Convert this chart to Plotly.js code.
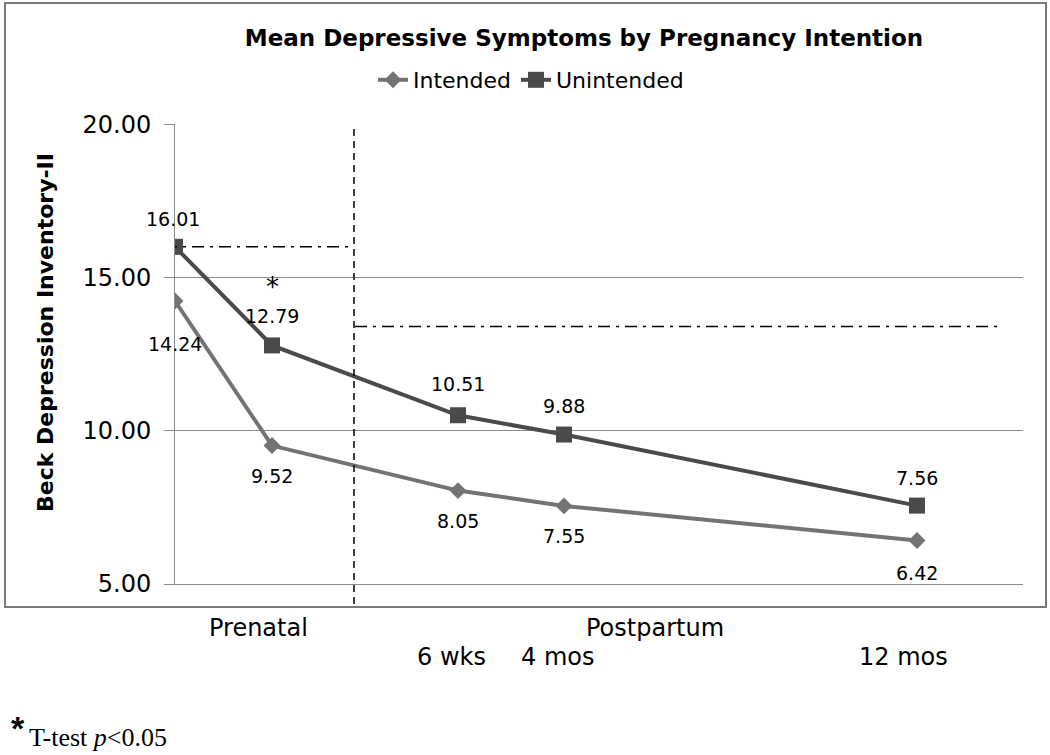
<!DOCTYPE html>
<html><head><meta charset="utf-8">
<script src="https://cdn.plot.ly/plotly-3.0.1.min.js"></script>
<style>body{margin:0;background:#fff}#chart{width:1050px;height:755px}</style>
</head><body><div id="chart"></div><script>
// ---- data ----
const timepoints = [0, 0.97, 2.83, 3.89, 7.42];
const intended = [14.24, 9.52, 8.05, 7.55, 6.42];
const unintended = [16.01, 12.79, 10.51, 9.88, 7.56];
const yTicks = [5, 10, 15, 20];
const yTickText = ['5.00', '10.00', '15.00', '20.00'];
const phaseLabels = ['Prenatal', 'Postpartum'];
const visitLabels = ['6 wks', '4 mos', '12 mos'];
const significantIndex = 1;
const baselineRef = 16.01;
const postpartumRef = 13.41;

// ---- layout helpers ----
const L = 175, R = 27, T = 124, B = 171, W = 1050, H = 755;
const pw = W - L - R, ph = H - T - B;
const fx = p => (p - L) / pw;
const fy = p => (H - B - p) / ph;
const FONT = 'DejaVu Sans, Verdana, sans-serif';

const traces = [
  {x: timepoints, y: intended, name: 'Intended', mode: 'lines+markers',
   line: {color: '#737373', width: 4}, marker: {symbol: 'diamond', size: 13, color: '#737373'}},
  {x: timepoints, y: unintended, name: 'Unintended', mode: 'lines+markers',
   line: {color: '#4a4a4a', width: 4}, marker: {symbol: 'square', size: 16, color: '#4a4a4a'}}
];

const annotations = [];
const intShift = [-43, -30, -30, -30, -32];
const unShift = [28, 29, 31, 29, 28];
const lbl = {family: FONT, size: 19, color: '#000'};
intended.forEach((v, i) => annotations.push({x: timepoints[i], y: v, xref: 'x', yref: 'y', text: v.toFixed(2),
  xanchor: 'center', yanchor: 'middle', showarrow: false, yshift: intShift[i], xshift: 0, font: lbl}));
unintended.forEach((v, i) => annotations.push({x: timepoints[i], y: v, xref: 'x', yref: 'y', text: v.toFixed(2),
  xanchor: 'center', yanchor: 'middle', showarrow: false, yshift: unShift[i], xshift: i === 0 ? -2 : 0, font: lbl}));
annotations.push({x: timepoints[significantIndex], y: unintended[significantIndex], xref: 'x', yref: 'y', text: '*',
  xanchor: 'center', yanchor: 'bottom', showarrow: false, yshift: 41, font: {family: FONT, size: 26, color: '#000'}});
// y-axis title
annotations.push({x: fx(45), y: fy(333), xref: 'paper', yref: 'paper', xanchor: 'center', yanchor: 'middle',
  text: '<b>Beck Depression Inventory-II</b>', textangle: -90, showarrow: false, font: {family: FONT, size: 22, color: '#000'}});
// phase and visit labels
const phasePx = [258, 655];
const axFont = {family: FONT, size: 24, color: '#000'};
phaseLabels.forEach((t, i) => annotations.push({x: fx(phasePx[i]), y: fy(628), xref: 'paper', yref: 'paper', text: t,
  xanchor: 'center', yanchor: 'middle', showarrow: false, font: axFont}));
const visitPx = [451, 557, 903];
visitLabels.forEach((t, i) => annotations.push({x: fx(visitPx[i]), y: fy(657), xref: 'paper', yref: 'paper', text: t,
  xanchor: 'center', yanchor: 'middle', showarrow: false, font: axFont}));
// footnote
annotations.push({x: fx(9), y: fy(728), xref: 'paper', yref: 'paper', xanchor: 'left', yanchor: 'middle', text: '<b>*</b>',
  showarrow: false, font: {family: 'Liberation Sans, Arial, sans-serif', size: 34, color: '#000'}});
annotations.push({x: fx(27), y: fy(737), xref: 'paper', yref: 'paper', xanchor: 'left', yanchor: 'middle', text: 'T-test <i>p</i>&lt;0.05',
  showarrow: false, font: {family: 'Liberation Serif, Times New Roman, serif', size: 26, color: '#000'}});

const dashDot = {color: '#000', width: 1.5, dash: '12px,6px,3px,6px'};
const shapes = [
  {type: 'rect', xref: 'paper', yref: 'paper', x0: fx(5), x1: fx(1046), y0: fy(607), y1: fy(3),
   line: {color: '#7a7a7a', width: 2}},
  {type: 'line', xref: 'x', yref: 'paper', x0: 1.79, x1: 1.79, y0: fy(604), y1: 1,
   line: {color: '#000', width: 1.5, dash: '7px,5px'}},
  {type: 'line', xref: 'x', yref: 'y', x0: -0.1, x1: 1.73, y0: baselineRef, y1: baselineRef, line: dashDot},
  {type: 'line', xref: 'x', yref: 'y', x0: 1.80, x1: 8.27, y0: postpartumRef, y1: postpartumRef, line: dashDot}
];

const layout = {
  width: W, height: H, margin: {l: L, r: R, t: T, b: B},
  paper_bgcolor: '#fff', plot_bgcolor: '#fff',
  title: {text: '<b>Mean Depressive Symptoms by Pregnancy Intention</b>', x: 584 / W, xanchor: 'center',
    y: 1 - 38 / H, yanchor: 'middle', xref: 'container', yref: 'container',
    font: {family: FONT, size: 23, color: '#000'}},
  showlegend: true,
  legend: {orientation: 'h', x: fx(531), xanchor: 'center', y: fy(80), yanchor: 'middle',
    font: {family: FONT, size: 22, color: '#000'}, bgcolor: 'rgba(0,0,0,0)'},
  xaxis: {range: [0, 8.48], showgrid: false, zeroline: false, showticklabels: false, ticks: '',
    showline: true, linecolor: '#8c8c8c', linewidth: 1, fixedrange: true},
  yaxis: {range: [5, 20.02], tickvals: yTicks, ticktext: yTickText, showgrid: true, gridcolor: '#8c8c8c', gridwidth: 1,
    zeroline: false, showline: true, linecolor: '#8c8c8c', linewidth: 1, ticks: 'outside', ticklen: 10, tickcolor: '#8c8c8c',
    tickfont: {family: FONT, size: 24, color: '#000'}, ticklabelstandoff: 8, fixedrange: true},
  annotations, shapes
};
Plotly.newPlot('chart', traces, layout, {displayModeBar: false, staticPlot: true});
</script></body></html>
